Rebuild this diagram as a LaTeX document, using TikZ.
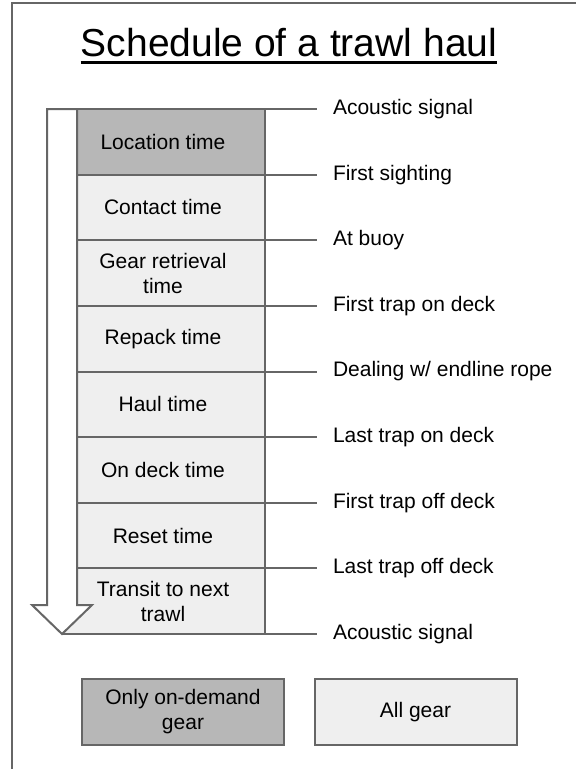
\documentclass[tikz,border=0pt]{standalone}
\usepackage{fontspec}
\setmainfont{Liberation Sans}
\usepackage{xcolor}
\usepackage{tikz}
\usetikzlibrary{positioning,calc}
\definecolor{edgegray}{HTML}{666666}
\definecolor{darkfill}{HTML}{B7B7B7}
\definecolor{lightfill}{HTML}{EFEFEF}

\begin{document}
\begin{tikzpicture}[x=1pt, y=-1pt, every node/.style={font=\fontsize{21}{25}\selectfont, align=center},
  phase/.style={draw=edgegray, line width=2pt, minimum width=188pt, minimum height=65.625pt, inner sep=0pt, outer sep=0pt},
  event/.style={anchor=west, inner xsep=16pt, inner ysep=0pt, outer sep=0pt},
  tick/.style={draw=edgegray, line width=2pt},
  key/.style={draw=edgegray, line width=2pt, minimum width=202pt, minimum height=66pt}]
\useasboundingbox (0,0) rectangle (576,769);
\draw[edgegray, line width=2pt] (12,780) -- (12,3) -- (590,3);

\node[font=\fontsize{39}{45}\selectfont, inner sep=0pt, anchor=base] (title) at (289,56) {Schedule of a trawl haul};
\draw[line width=3.5pt] ([yshift=-6.5pt]title.base west) -- ([yshift=-6.5pt]title.base east);

\foreach \i/\txt/\col in {1/{Location time}/darkfill, 2/{Contact time}/lightfill, 3/{Gear retrieval\\time}/lightfill,
    4/{Repack time}/lightfill, 5/{Haul time}/lightfill, 6/{On deck time}/lightfill, 7/{Reset time}/lightfill,
    8/{Transit to next\\trawl}/lightfill} {
  \node[phase, fill=\col] (P\i) at (171,{109+65.625*(\i-0.5)}) {};
  \node (L\i) at ([xshift=-8pt]P\i.center) {\txt};
}
\foreach \k/\txt in {0/{Acoustic signal}, 1/{First sighting}, 2/{At buoy}, 3/{First trap on deck},
    4/{Dealing w/ endline rope}, 5/{Last trap on deck}, 6/{First trap off deck}, 7/{Last trap off deck},
    8/{Acoustic signal}} {
  \node[event] (E\k) at (317,{109+65.625*\k}) {\txt};
}

% time arrow
\coordinate (atop) at (47,109);
\coordinate (atip) at (62,634);
\fill[lightfill] (atip) -- (79,634) -- (79,617) -- cycle;
\filldraw[fill=white, draw=edgegray, line width=2pt] (atop) -- (77,109) -- (77,605) -- (92,605) -- (atip)
  -- (32,605) -- (47,605) -- cycle;

\draw[tick] (atop) -- (E0.west);
\foreach \k in {1,...,7} {
  \draw[tick] (P\k.south east) -- (E\k.west);
}
\draw[tick] (atip) -- (E8.west);

\node[key, fill=darkfill] (K1) at (183,712) {Only on-demand\\gear};
\node[key, fill=lightfill] (K2) at (415.5,712) {All gear};
\end{tikzpicture}
\end{document}
